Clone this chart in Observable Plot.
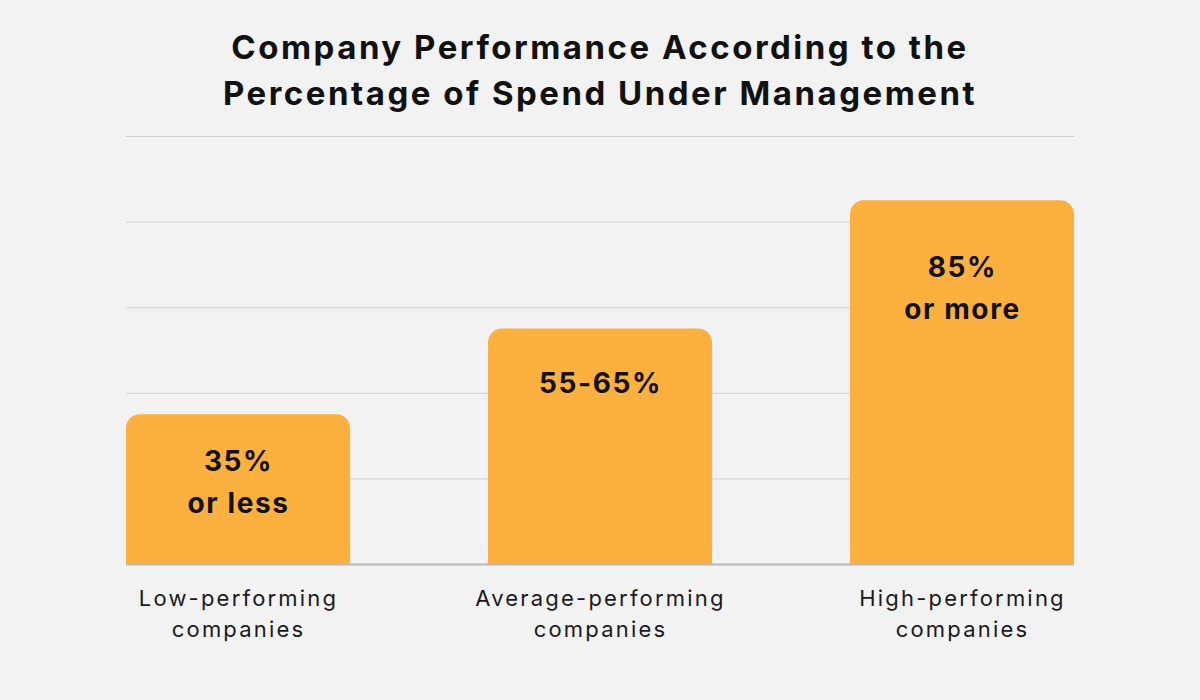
<!DOCTYPE html>
<html>
<head>
<meta charset="utf-8">
<script src="https://cdn.jsdelivr.net/npm/d3@7"></script>
<script src="https://cdn.jsdelivr.net/npm/@observablehq/plot@0.6"></script>
<style>
  html, body { margin: 0; padding: 0; background: #f2f2f2; width: 1200px; height: 700px; overflow: hidden; }
  h1 { margin: 0; padding-top: 24px; font-family: Inter, "DejaVu Sans", sans-serif; font-weight: 700;
       font-size: 33px; line-height: 46px; letter-spacing: 2.5px; text-align: center; color: #111; height: 92px; }
  #chart svg { display: block; }
</style>
</head>
<body>
<h1>Company Performance According to the<br>Percentage of Spend Under Management</h1>
<div id="chart"></div>
<script>
const categories = ["Low-performing\ncompanies", "Average-performing\ncompanies", "High-performing\ncompanies"];
const values = [35, 55, 85];
const barLabels = ["35%\nor less", "55-65%", "85%\nor more"];
const yTicks = [0, 20, 40, 60, 80, 100];

const data = categories.map((c, i) => ({category: c, value: values[i], label: barLabels[i]}));
const labelOffsets = [26, 34, 46];

const font = "Inter, 'DejaVu Sans', sans-serif";

const chart = Plot.plot({
  width: 1200,
  height: 584,
  marginLeft: 126,
  marginRight: 126,
  marginTop: 20,
  marginBottom: 136,
  style: {background: "transparent", fontFamily: font},
  x: {domain: categories, paddingInner: 0.381, paddingOuter: 0, round: false, axis: null},
  y: {domain: [0, 100], axis: null},
  marks: [
    Plot.ruleY(yTicks.filter(t => t > 0), {stroke: "#d2d2d2", strokeWidth: 1}),
    Plot.barY(data, {x: "category", y: "value", fill: "#fbb040", rx: 14, inset: 0}),
    Plot.barY(data, {x: "category", y: "value", fill: "#fbb040", inset: 0, insetTop: 20}),
    Plot.ruleY([0], {stroke: "#b8b8b8", strokeWidth: 2}),
    ...data.map((d, i) => Plot.text([d], {
      x: "category", y: "value", text: "label",
      lineAnchor: "top", dy: labelOffsets[i],
      fontSize: 28, fontWeight: 700, fill: "#111", lineHeight: 1.5
    })),
    Plot.text(data, {
      x: "category", text: "category", frameAnchor: "bottom",
      lineAnchor: "top", dy: 20, fontSize: 22, fill: "#1a1a1a", lineHeight: 1.4
    })
  ]
});
d3.select(chart).selectAll("g[aria-label='text']").each(function() {
  const g = d3.select(this);
  g.attr("letter-spacing", g.attr("font-weight") === "700" ? "1.6px" : "2.2px");
});
document.getElementById("chart").appendChild(chart);
</script>
</body>
</html>
